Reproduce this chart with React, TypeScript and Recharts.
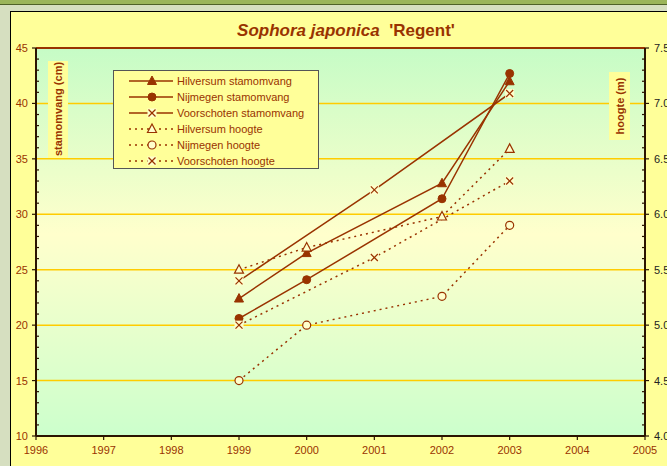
import { LineChart, Line, XAxis, YAxis, CartesianGrid, ReferenceLine, Legend } from 'recharts'

// measurement years
const years = [1999, 2000, 2002, 2003]
const voorschotenYears = [1999, 2001, 2003]

// trunk girth (cm)
const hilversumStam = [22.4, 26.5, 32.8, 42.0]
const nijmegenStam = [20.6, 24.1, 31.4, 42.7]
const voorschotenStam = [24.0, 32.2, 40.9]

// height (m)
const hilversumHoogte = [5.5, 5.7, 5.98, 6.59]
const nijmegenHoogte = [4.5, 5.0, 5.26, 5.9]
const voorschotenHoogte = [5.0, 5.61, 6.3]

// axes
const xTicks = [1996, 1997, 1998, 1999, 2000, 2001, 2002, 2003, 2004, 2005]
const gridValues = [15, 20, 25, 30, 35, 40]

const BROWN = '#993300'
const AXIS = '#2b1400'
const PALE = '#ffffcc'

const toRows = (xs: number[], ys: number[]) => xs.map((year, i) => ({ year, value: ys[i] }))

type MarkerKind = 'triangle' | 'circle' | 'cross' | 'openTriangle' | 'openCircle'

const series = [
  { name: 'Hilversum stamomvang', data: toRows(years, hilversumStam), axis: 'cm', marker: 'triangle', dashed: false },
  { name: 'Nijmegen stamomvang', data: toRows(years, nijmegenStam), axis: 'cm', marker: 'circle', dashed: false },
  { name: 'Voorschoten stamomvang', data: toRows(voorschotenYears, voorschotenStam), axis: 'cm', marker: 'cross', dashed: false },
  { name: 'Hilversum hoogte', data: toRows(years, hilversumHoogte), axis: 'm', marker: 'openTriangle', dashed: true },
  { name: 'Nijmegen hoogte', data: toRows(years, nijmegenHoogte), axis: 'm', marker: 'openCircle', dashed: true },
  { name: 'Voorschoten hoogte', data: toRows(voorschotenYears, voorschotenHoogte), axis: 'm', marker: 'cross', dashed: true },
] as { name: string; data: { year: number; value: number }[]; axis: string; marker: MarkerKind; dashed: boolean }[]

// minor ticks, one per cm / 0.1 m
const cmMinor = Array.from({ length: 36 }, (_, i) => 10 + i)
const mMinor = Array.from({ length: 36 }, (_, i) => Math.round((4 + i * 0.1) * 10) / 10)

function Marker({ kind, cx, cy }: { kind: MarkerKind; cx: number; cy: number }) {
  const tri = `${cx},${cy - 5} ${cx - 4.5},${cy + 3.5} ${cx + 4.5},${cy + 3.5}`
  switch (kind) {
    case 'triangle':
      return <polygon points={tri} fill={BROWN} stroke={BROWN} strokeWidth={1} />
    case 'circle':
      return <circle cx={cx} cy={cy} r={4} fill={BROWN} stroke={BROWN} />
    case 'openTriangle':
      return <polygon points={tri} fill={PALE} stroke={BROWN} strokeWidth={1.2} />
    case 'openCircle':
      return <circle cx={cx} cy={cy} r={4} fill={PALE} stroke={BROWN} strokeWidth={1.2} />
    default:
      return (
        <g>
          <rect x={cx - 4.5} y={cy - 4.5} width={9} height={9} fill={PALE} />
          <line x1={cx - 3.5} y1={cy - 3.5} x2={cx + 3.5} y2={cy + 3.5} stroke={BROWN} strokeWidth={1.2} />
          <line x1={cx - 3.5} y1={cy + 3.5} x2={cx + 3.5} y2={cy - 3.5} stroke={BROWN} strokeWidth={1.2} />
        </g>
      )
  }
}

function LeftTick(props: any) {
  const { x, y, payload } = props
  const major = payload.value % 5 === 0
  return (
    <g>
      <line x1={major ? x - 4 : x} x2={major ? x : x + 3} y1={y} y2={y} stroke={AXIS} strokeWidth={1.2} />
      {major && (
        <text x={x - 8} y={y} dy={4} textAnchor="end" fontSize={11} fill={BROWN}>
          {payload.value}
        </text>
      )}
    </g>
  )
}

function RightTick(props: any) {
  const { x, y, payload } = props
  const major = Math.round(payload.value * 10) % 5 === 0
  return (
    <g>
      <line x1={major ? x + 4 : x} x2={major ? x : x - 3} y1={y} y2={y} stroke={AXIS} strokeWidth={1.2} />
      {major && (
        <text x={x + 9} y={y} dy={4} textAnchor="start" fontSize={11} fill="#222">
          {payload.value.toFixed(1)}
        </text>
      )}
    </g>
  )
}

function LegendBox() {
  return (
    <div style={{ padding: '2px 0 0 0' }}>
      {series.map((s) => (
        <div key={s.name} style={{ display: 'flex', alignItems: 'center', height: 16 }}>
          <svg width={60} height={16} style={{ marginLeft: 3 }}>
            <line
              x1={12}
              x2={56}
              y1={8}
              y2={8}
              stroke={BROWN}
              strokeWidth={1.5}
              strokeDasharray={s.dashed ? '2 4' : undefined}
            />
            <Marker kind={s.marker} cx={35} cy={8} />
          </svg>
          <span style={{ fontSize: 11, color: BROWN, whiteSpace: 'nowrap' }}>{s.name}</span>
        </div>
      ))}
    </div>
  )
}

export default function App() {
  return (
    <div
      style={{
        position: 'fixed',
        left: 0,
        top: 0,
        width: 667,
        height: 466,
        overflow: 'hidden',
        background: '#d6dfc0',
        fontFamily: '"Liberation Sans", Arial, sans-serif',
      }}
    >
      <div style={{ position: 'absolute', left: 0, top: 0, width: 667, height: 4, background: '#9bb55a', borderBottom: '1px solid #4f6228' }} />
      <div
        style={{
          position: 'absolute',
          left: 10,
          top: 11,
          width: 700,
          height: 500,
          borderLeft: '1px solid #000',
          borderTop: '1px solid #000',
          background: '#ffff99',
        }}
      />
      <div
        style={{
          position: 'absolute',
          left: 0,
          top: 21,
          width: 692,
          textAlign: 'center',
          fontSize: 17,
          fontWeight: 'bold',
          color: BROWN,
        }}
      >
        <i>Sophora japonica</i>&nbsp; 'Regent'
      </div>
      <div style={{ position: 'absolute', left: 0, top: 0 }}>
        <LineChart width={667} height={466} margin={{ top: 48, right: 0, bottom: 0, left: 0 }}>
          <defs>
            <linearGradient id="plotBg" x1="0" y1="0" x2="0" y2="1">
              <stop offset="0%" stopColor="#c6fcc6" />
              <stop offset="48%" stopColor="#ffffcc" />
              <stop offset="100%" stopColor="#ccffcc" />
            </linearGradient>
          </defs>
          <CartesianGrid horizontal={false} vertical={false} fill="url(#plotBg)" yAxisId="cm" />
          <XAxis
            dataKey="year"
            type="number"
            domain={[1996, 2005]}
            ticks={xTicks}
            height={30}
            tickSize={4}
            tickMargin={6}
            interval={0}
            axisLine={{ stroke: AXIS, strokeWidth: 2 }}
            tickLine={{ stroke: AXIS, strokeWidth: 1.2 }}
            tick={{ fontSize: 11, fill: BROWN }}
            allowDuplicatedCategory={false}
          />
          <YAxis
            yAxisId="cm"
            domain={[10, 45]}
            ticks={cmMinor}
            interval={0}
            width={36}
            tickSize={0}
            tickMargin={0}
            axisLine={{ stroke: AXIS, strokeWidth: 2 }}
            tickLine={false}
            tick={<LeftTick />}
            label={{
              content: () => (
                <g>
                  <rect x={48} y={61} width={20} height={97} fill="#ffff99" />
                  <text
                    transform="translate(62,109) rotate(-90)"
                    textAnchor="middle"
                    fontSize={11}
                    fontWeight="bold"
                    fill={BROWN}
                  >
                    stamomvang (cm)
                  </text>
                </g>
              ),
            }}
          />
          <YAxis
            yAxisId="m"
            orientation="right"
            domain={[4, 7.5]}
            ticks={mMinor}
            interval={0}
            width={22}
            tickSize={0}
            tickMargin={0}
            axisLine={{ stroke: AXIS, strokeWidth: 2 }}
            tickLine={false}
            tick={<RightTick />}
            label={{
              content: () => (
                <g>
                  <rect x={609} y={72} width={21} height={68} fill="#ffff99" />
                  <text
                    transform="translate(624,106) rotate(-90)"
                    textAnchor="middle"
                    fontSize={11}
                    fontWeight="bold"
                    fill={BROWN}
                  >
                    hoogte (m)
                  </text>
                </g>
              ),
            }}
          />
          {gridValues.map((v) => (
            <ReferenceLine key={v} yAxisId="cm" y={v} stroke="#ffcc00" strokeWidth={1.5} />
          ))}
          <ReferenceLine yAxisId="cm" y={45} stroke={BROWN} strokeWidth={2} />
          <Legend
            layout="vertical"
            align="center"
            verticalAlign="middle"
            content={<LegendBox />}
            wrapperStyle={{
              left: 113,
              top: 70,
              width: 206,
              height: 99,
              border: '1px solid #555',
              background: '#ffff99',
              boxSizing: 'border-box',
            }}
          />
          {series.map((s) => (
            <Line
              key={s.name}
              name={s.name}
              data={s.data}
              dataKey="value"
              yAxisId={s.axis}
              type="linear"
              stroke={BROWN}
              strokeWidth={1.5}
              strokeDasharray={s.dashed ? '2 4' : undefined}
              dot={(p: any) => <Marker key={`${s.name}-${p.index}`} kind={s.marker} cx={p.cx} cy={p.cy} />}
              activeDot={false}
              isAnimationActive={false}
            />
          ))}
        </LineChart>
      </div>
    </div>
  )
}
